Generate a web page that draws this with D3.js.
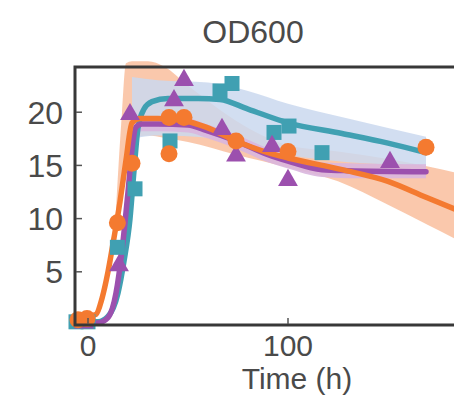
<!DOCTYPE html>
<html>
<head>
<meta charset="utf-8">
<script src="https://cdn.jsdelivr.net/npm/d3@7"></script>
<style>
  body { margin: 0; background: #fff; }
  text { font-family: "Liberation Sans", Arial, sans-serif; fill: #4a4a4a; }
</style>
</head>
<body>
<script>
// measured samples (time in h, OD600)
const orangeT = [-5, -0.5, 14.7, 22, 40.5, 40.5, 48, 74, 100, 169];
const orangeV = [0.5, 0.6, 9.6, 15.2, 16.1, 19.5, 19.5, 17.3, 16.3, 16.7];
const tealT = [-6, 0, 14.7, 23.5, 41, 66, 72, 93, 100.5, 117];
const tealV = [0.3, 0.3, 7.3, 12.8, 17.3, 22, 22.7, 18.1, 18.7, 16.2];
const purpleT = [-2, 15.5, 21, 43, 48, 67, 74, 92, 100, 151];
const purpleV = [0.2, 5.6, 19.8, 21.1, 23, 18.4, 15.9, 16.8, 13.6, 15.3];

// fitted curves
const orangeFitT = [-6.5, 0, 4, 7, 10, 13, 16, 19, 22, 26, 35, 48, 59, 74, 90, 100, 127, 150, 169, 195];
const orangeFitV = [0.6, 0.8, 1.0, 2.5, 5.0, 8.2, 11.6, 15.5, 19.0, 19.4, 19.4, 19.2, 18.6, 17.3, 16.2, 15.7, 14.6, 13.5, 12.0, 10.0];
const tealFitT = [-6.5, 5, 10, 15, 18, 21, 23, 25, 28, 32, 40, 55, 66, 80, 100, 127, 150, 169];
const tealFitV = [0.3, 0.3, 0.8, 3, 6, 10, 14.5, 18.5, 20.3, 21.0, 21.3, 21.3, 21.2, 20.3, 19.0, 18.0, 17.1, 16.2];
const purpleFitT = [-6.5, 5, 10, 14, 17, 20, 22, 24, 27, 35, 50, 59, 74, 90, 100, 117, 130, 169];
const purpleFitV = [0.1, 0.2, 0.7, 3.0, 7.0, 12.5, 16.5, 18.6, 18.9, 18.9, 18.8, 18.3, 17.3, 16.0, 15.4, 14.6, 14.5, 14.4];

// confidence bands
const orangeBandT = [14, 17, 19, 22, 30, 38, 50, 74, 100, 125, 150, 170, 195];
const orangeBandLo = [9.5, 12, 15, 17.5, 17.8, 17.6, 17.2, 16, 14.8, 13.5, 11.3, 9.4, 7.0];
const orangeBandHi = [11, 20, 24.6, 24.8, 24.8, 24.3, 22.5, 19.2, 16.9, 16.3, 15.6, 14.9, 13.8];
const tealBandT = [22, 35, 60, 80, 100, 130, 169];
const tealBandLo = [17.5, 17.8, 17.6, 16.8, 16.0, 15.3, 15.0];
const tealBandHi = [23.3, 23.0, 22.8, 22.0, 20.8, 19.4, 17.7];
const purpleBandT = [22, 27, 35, 50, 59, 74, 90, 100, 117, 130, 169];
const purpleBandLo = [17.6, 18.2, 18.2, 18.1, 17.6, 16.6, 15.3, 14.7, 13.9, 13.8, 13.8];
const purpleBandHi = [18.9, 19.5, 19.5, 19.4, 18.9, 17.9, 16.6, 16.0, 15.3, 15.2, 15.1];

const yTicks = [5, 10, 15, 20];
const xTicks = [0, 100];

const colors = { orange: '#f47a30', teal: '#40a0b2', purple: '#9c50ae' };
const bandColors = { orange: '#f9c2a3', teal: '#cad8ef', purple: '#d9b6de' };

const W = 454, H = 397;
const svg = d3.select('body').append('svg').attr('width', W).attr('height', H);

const x = d3.scaleLinear().domain([-6.5, 200]).range([75, 488]);
const y = d3.scaleLinear().domain([0, 24.25]).range([325, 67]);

const zip = (ts, vs) => ts.map((t, i) => [t, vs[i]]);
const band = (ts, lo, hi) => ts.map((t, i) => ({ t: t, lo: lo[i], hi: hi[i] }));

const area = d3.area().curve(d3.curveMonotoneX)
  .x(d => x(d.t)).y0(d => y(d.lo)).y1(d => y(d.hi));
const line = d3.line().curve(d3.curveMonotoneX)
  .x(d => x(d[0])).y(d => y(d[1]));

// bands
svg.append('path').attr('d', area(band(orangeBandT, orangeBandLo, orangeBandHi)))
  .attr('fill', bandColors.orange).attr('opacity', 0.9);
svg.append('path').attr('d', area(band(tealBandT, tealBandLo, tealBandHi)))
  .attr('fill', bandColors.teal).attr('opacity', 0.85);
svg.append('path').attr('d', area(band(purpleBandT, purpleBandLo, purpleBandHi)))
  .attr('fill', bandColors.purple).attr('opacity', 0.9);

// fitted lines
[[tealFitT, tealFitV, 'teal'], [purpleFitT, purpleFitV, 'purple'], [orangeFitT, orangeFitV, 'orange']]
  .forEach(([ts, vs, c]) => {
    svg.append('path').attr('d', line(zip(ts, vs)))
      .attr('fill', 'none').attr('stroke', colors[c])
      .attr('stroke-width', 5.5).attr('stroke-linejoin', 'round').attr('stroke-linecap', 'round');
  });

// markers
const sq = 15;
svg.append('g').selectAll('rect').data(zip(tealT, tealV)).join('rect')
  .attr('x', d => x(d[0]) - sq / 2).attr('y', d => y(d[1]) - sq / 2)
  .attr('width', sq).attr('height', sq).attr('fill', colors.teal);

const tri = d3.symbol().type(d3.symbolTriangle).size(170);
svg.append('g').selectAll('path').data(zip(purpleT, purpleV)).join('path')
  .attr('d', tri)
  .attr('transform', d => 'translate(' + x(d[0]) + ',' + y(d[1]) + ')')
  .attr('fill', colors.purple);

svg.append('g').selectAll('circle').data(zip(orangeT, orangeV)).join('circle')
  .attr('cx', d => x(d[0])).attr('cy', d => y(d[1]))
  .attr('r', 8.5).attr('fill', colors.orange);

// frame
svg.append('path')
  .attr('d', 'M' + W + ',' + y.range()[1] + 'H' + x.range()[0] + 'V' + y.range()[0] + 'H' + W)
  .attr('fill', 'none').attr('stroke', '#383838').attr('stroke-width', 3);

// y ticks (inward)
svg.append('g').selectAll('line').data(yTicks).join('line')
  .attr('x1', 76).attr('x2', 82).attr('y1', d => y(d)).attr('y2', d => y(d))
  .attr('stroke', '#555').attr('stroke-width', 1.5);
svg.append('g').selectAll('text').data(yTicks).join('text')
  .attr('x', 63).attr('y', d => y(d)).attr('dy', '0.36em')
  .attr('text-anchor', 'end').attr('font-size', 32).text(d => d);

// x ticks
svg.append('g').selectAll('line').data(xTicks).join('line')
  .attr('x1', d => x(d)).attr('x2', d => x(d)).attr('y1', 324).attr('y2', 318)
  .attr('stroke', '#555').attr('stroke-width', 1.5);
svg.append('g').selectAll('text').data(xTicks).join('text')
  .attr('x', d => x(d)).attr('y', 356)
  .attr('text-anchor', 'middle').attr('font-size', 30).text(d => d);

svg.append('text').attr('x', 297).attr('y', 389)
  .attr('text-anchor', 'middle').attr('font-size', 30).text('Time (h)');

svg.append('text').attr('x', 253).attr('y', 43)
  .attr('text-anchor', 'middle').attr('font-size', 32).text('OD600');
</script>
</body>
</html>
